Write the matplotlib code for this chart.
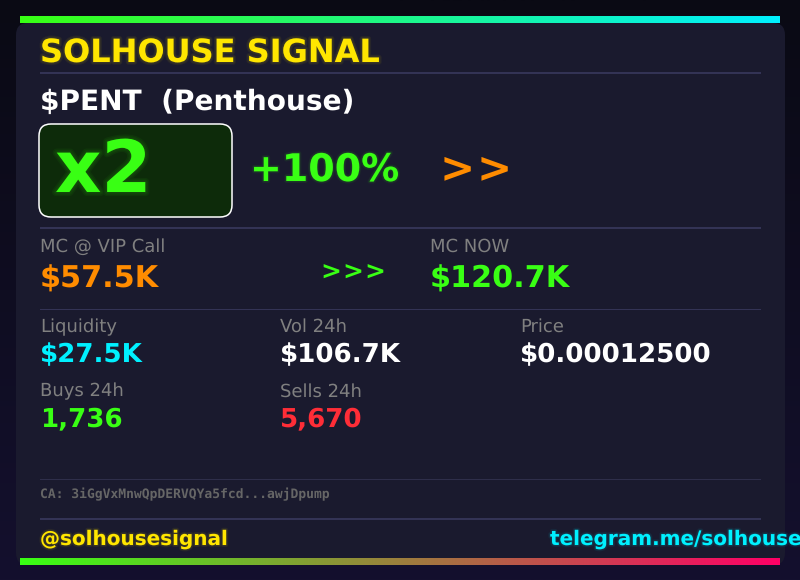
import matplotlib
matplotlib.use('Agg')
import matplotlib.pyplot as plt
import matplotlib.patheffects as pe
from matplotlib.patches import FancyBboxPatch, Rectangle
from matplotlib.colors import LinearSegmentedColormap
import numpy as np

plt.rcParams['text.hinting'] = 'no_hinting'

GREEN = '#39ff14'
CYAN = '#00f0ff'
YELLOW = '#ffe600'
ORANGE = '#ff8c00'
RED = '#ff2d37'
GREY = '#808080'
WHITE = '#ffffff'

mc_labels = ['MC @ VIP Call', 'MC NOW']
mc_values = ['$57.5K', '$120.7K']
stat_labels = ['Liquidity', 'Vol 24h', 'Price', 'Buys 24h', 'Sells 24h']
stat_values = ['$27.5K', '$106.7K', '$0.00012500', '1,736', '5,670']
stat_colors = [CYAN, WHITE, WHITE, GREEN, RED]
stat_x = [40, 280, 520, 40, 280]
stat_y = [362, 362, 362, 426.5, 426.5]


def px(size):
    # font size given in pixels, figure is 100 dpi
    return size * 72 / 100


def glow(color, width=3.0, alpha=0.05):
    return [pe.Stroke(linewidth=w, foreground=color, alpha=alpha)
            for w in (width, width * 0.66, width * 0.33)]


fig = plt.figure(figsize=(8, 5.8), dpi=100)
ax = fig.add_axes([0, 0, 1, 1])
ax.set_xlim(0, 800)
ax.set_ylim(580, 0)
ax.axis('off')

# page background
bg = LinearSegmentedColormap.from_list('bg', ['#0a0a14', '#14102e'])
ax.imshow(np.linspace(0, 1, 256).reshape(-1, 1), cmap=bg, extent=[0, 800, 580, 0],
          aspect='auto', zorder=0)

# card
ax.add_patch(FancyBboxPatch((16, 23), 769, 542, boxstyle='round,pad=0,rounding_size=12',
                            fc='#1a1a2e', ec='none', zorder=1))

# gradient bars
top = LinearSegmentedColormap.from_list('top', [GREEN, CYAN])
bottom = LinearSegmentedColormap.from_list('bottom', [GREEN, '#ff0066'])
grad = np.linspace(0, 1, 256).reshape(1, -1)
ax.imshow(grad, cmap=top, extent=[20, 780, 23, 16], aspect='auto', zorder=2)
ax.imshow(grad, cmap=bottom, extent=[20, 780, 565, 558], aspect='auto', zorder=2)
ax.set_xlim(0, 800)
ax.set_ylim(580, 0)

# divider lines
for y, h, c in [(72, 2, '#333355'), (227, 2, '#333355'), (309, 1, '#333355'),
                (479, 1, '#2e2e4a'), (518, 2, '#333355')]:
    ax.add_patch(Rectangle((40, y), 721, h, fc=c, ec='none', zorder=2))


def label(x, y, s, size, color, weight='bold', family='DejaVu Sans', ha='left', fx=None):
    t = ax.text(x, y, s, fontsize=px(size), color=color, fontweight=weight, family=family,
                ha=ha, va='baseline', zorder=5)
    if fx:
        t.set_path_effects(fx + [pe.Normal()])
    return t


label(40, 62, 'SOLHOUSE SIGNAL', 32, YELLOW, fx=glow(YELLOW, 4))
label(40, 110, '$PENT  (Penthouse)', 28, WHITE)

# multiplier box
ax.add_patch(FancyBboxPatch((39, 124), 193, 93, boxstyle='round,pad=0,rounding_size=12',
                            fc='#0d2b0a', ec=WHITE, lw=1.1, zorder=3))
label(55, 192, 'x2', 72, GREEN, fx=glow(GREEN, 6))
label(250, 181, '+100%', 38, GREEN, fx=glow(GREEN, 3))
for i, ch in enumerate('>>'):
    label(440 + i * 37, 181, ch, 42, ORANGE)

# market cap row
label(40, 252, mc_labels[0], 18, GREY, weight='normal')
label(430, 252, mc_labels[1], 18, GREY, weight='normal')
label(40, 287.5, mc_values[0], 30.3, ORANGE)
label(430, 287.5, mc_values[1], 30.3, GREEN)
for i, ch in enumerate('>>>'):
    label(320 + i * 22, 280, ch, 25, GREEN)

# stats grid
for x, y, lab, val, col in zip(stat_x, stat_y, stat_labels, stat_values, stat_colors):
    label(x, y - 30, lab, 18, GREY, weight='normal')
    label(x, y, val, 26.1, col)

# contract and footer
label(40, 498, 'CA: 3iGgVxMnwQpDERVQYa5fcd...awjDpump', 13, '#666666', family='DejaVu Sans Mono')
label(40, 545, '@solhousesignal', 20, YELLOW, fx=glow(YELLOW, 3))
label(550, 545, 'telegram.me/solhousesignal', 20, CYAN, fx=glow(CYAN, 3))

fig.savefig('out.png', dpi=100, facecolor='#0a0a14')
